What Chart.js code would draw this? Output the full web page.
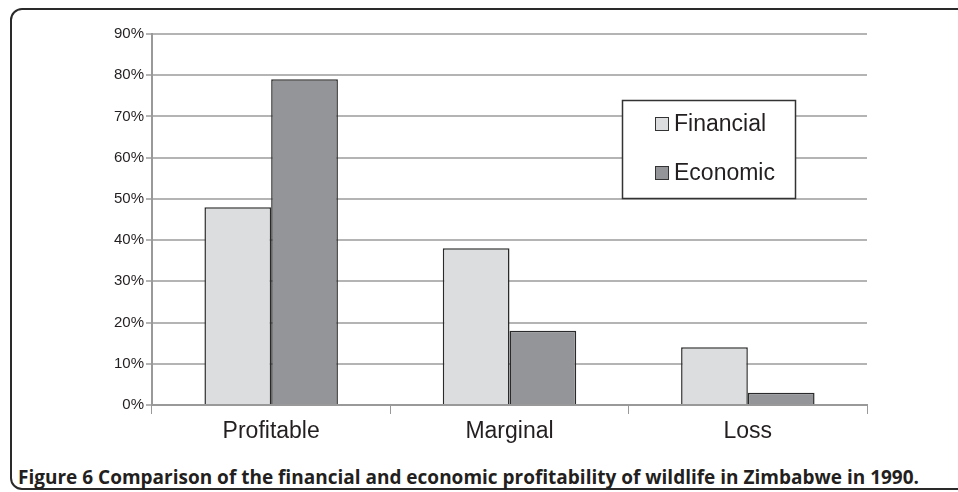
<!DOCTYPE html>
<html>
<head>
<meta charset="utf-8">
<script src="https://cdn.jsdelivr.net/npm/chart.js@4"></script>
<style>
    body { margin: 0; background: #fff; }
    #frame {
        position: absolute; left: 10px; top: 8px; width: 980px; height: 482px;
        border: 2px solid #2a2a2a; border-radius: 12px; box-sizing: border-box;
    }
    #wrap { position: absolute; left: 0; top: 0; width: 958px; height: 445px; }
    #caption {
        position: absolute; left: 18px; top: 464px; white-space: nowrap;
        font: bold 19px/26px "Open Sans", sans-serif; color: #231f20;
    }
</style>
</head>
<body>
<div id="frame"></div>
<div id="wrap"><canvas id="myChart"></canvas></div>
<div id="caption">Figure 6 Comparison of the financial and economic profitability of wildlife in Zimbabwe in 1990.</div>
<script>
const categories = ['Profitable', 'Marginal', 'Loss'];
const financial = [48, 38, 14];
const economic = [79, 18, 3];
const seriesNames = ['Financial', 'Economic'];

// legend box drawn inside the plot, like the original
const boxLegend = {
    id: 'boxLegend',
    afterDraw(chart) {
        const ctx = chart.ctx;
        const x = 622, y = 100, w = 173, h = 98;
        ctx.save();
        ctx.fillStyle = '#fff';
        ctx.fillRect(x, y, w, h);
        ctx.strokeStyle = '#333';
        ctx.lineWidth = 1.5;
        ctx.strokeRect(x + 0.5, y + 0.5, w, h);
        ctx.lineWidth = 1;
        ctx.font = '23px "Liberation Sans", Arial, sans-serif';
        ctx.textBaseline = 'middle';
        chart.data.datasets.forEach((ds, i) => {
            const cy = 124 + i * 49;
            ctx.fillStyle = ds.backgroundColor;
            ctx.fillRect(655.5, cy - 6.5, 13, 13);
            ctx.strokeStyle = '#333';
            ctx.strokeRect(655.5, cy - 6.5, 13, 13);
            ctx.fillStyle = '#231f20';
            ctx.fillText(ds.label, 674, cy + 1);
        });
        ctx.restore();
    }
};

new Chart(document.getElementById('myChart'), {
    type: 'bar',
    data: {
        labels: categories,
        datasets: [{
            label: seriesNames[0],
            data: financial,
            backgroundColor: '#dcdddf',
            borderColor: '#2a2a2a',
            borderWidth: 1.5,
            categoryPercentage: 0.56,
            barPercentage: 1
        },
        {
            label: seriesNames[1],
            data: economic,
            backgroundColor: '#939598',
            borderColor: '#2a2a2a',
            borderWidth: 1.5,
            categoryPercentage: 0.56,
            barPercentage: 1
        }]
    },
    options: {
        responsive: true,
        maintainAspectRatio: false,
        animation: false,
        layout: { padding: { left: 0, top: 34, right: 91, bottom: 0 } },
        plugins: {
            legend: { display: false },
            tooltip: { enabled: false }
        },
        scales: {
            x: {
                afterFit: scale => { scale.height = 40; },
                grid: {
                    offset: true,
                    drawOnChartArea: false,
                    tickLength: 9,
                    color: '#999'
                },
                border: { color: '#999', width: 2 },
                ticks: {
                    color: '#231f20',
                    padding: 4,
                    font: { family: '"Liberation Sans", Arial, sans-serif', size: 23 }
                }
            },
            y: {
                min: 0,
                max: 90,
                afterFit: scale => { scale.width = 152; },
                grid: { color: '#b4b4b4', lineWidth: 2, tickLength: 6 },
                border: { color: '#999', width: 2 },
                ticks: {
                    stepSize: 10,
                    color: '#231f20',
                    padding: 2,
                    callback: v => v + '%',
                    font: { family: '"Liberation Sans", Arial, sans-serif', size: 15 }
                }
            }
        }
    },
    plugins: [boxLegend]
});
</script>
</body>
</html>
